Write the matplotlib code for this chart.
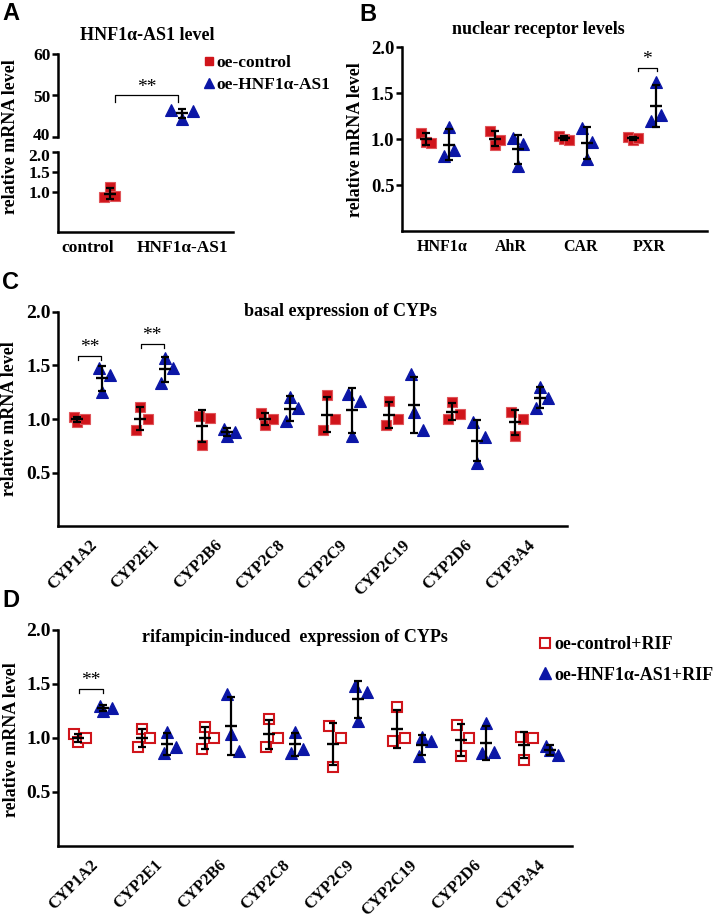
import matplotlib.pyplot as plt
import numpy as np
from matplotlib.lines import Line2D

W, H = 714, 917
RED = '#d0151b'
BLUE = '#0b16a6'
SERIF = ['Liberation Serif', 'DejaVu Serif']

plt.rcParams['font.family'] = SERIF
plt.rcParams['font.weight'] = 'bold'

# ---- data ----
a_groups = ['control', 'HNF1α-AS1']
a_ctrl = [0.87, 1.12, 0.89]
a_oe = [46.5, 44.3, 46.2]
a_top_ticks = [40, 50, 60]
a_bot_ticks = [1.0, 1.5, 2.0]

b_genes = ['HNF1α', 'AhR', 'CAR', 'PXR']
b_ctrl = [[1.07, 0.97, 0.96], [1.09, 0.93, 0.99], [1.03, 1.00, 0.99], [1.02, 0.99, 1.01]]
b_oe = [[0.81, 1.13, 0.88], [1.01, 0.71, 0.95], [1.12, 0.78, 0.97], [1.20, 1.62, 1.26]]

cyps = ['CYP1A2', 'CYP2E1', 'CYP2B6', 'CYP2C8', 'CYP2C9', 'CYP2C19', 'CYP2D6', 'CYP3A4']
c_ctrl = [[1.02, 0.97, 1.00], [0.90, 1.11, 1.00], [1.03, 0.76, 1.01], [1.06, 0.94, 1.00],
          [0.90, 1.22, 1.00], [0.94, 1.17, 1.00], [1.00, 1.16, 1.05], [1.07, 0.84, 1.00]]
c_oe = [[1.48, 1.25, 1.41], [1.34, 1.57, 1.48], [0.91, 0.84, 0.88], [0.98, 1.21, 1.10],
        [1.23, 0.84, 1.17], [1.42, 1.07, 0.90], [0.97, 0.59, 0.83], [1.10, 1.30, 1.20]]

d_ctrl = [[1.04, 0.96, 1.00], [0.92, 1.08, 1.00], [0.90, 1.10, 1.00], [0.92, 1.18, 1.00],
          [1.11, 0.73, 1.00], [0.97, 1.29, 1.00], [1.12, 0.83, 1.00], [1.01, 0.80, 1.00]]
d_oe = [[1.30, 1.25, 1.28], [0.86, 1.06, 0.92], [1.41, 1.04, 0.88], [0.86, 1.06, 0.90],
        [1.48, 1.16, 1.43], [0.83, 1.01, 0.97], [0.86, 1.14, 0.87], [0.93, 0.89, 0.84]]

# significance: (group index, bracket height, label)
sig_b = [(3, 1.77, '*')]
sig_c = [(0, 1.59, '**'), (1, 1.70, '**')]
sig_d = [(0, 1.45, '**')]


def style(ax, ysize=13.5):
    for s in ['top', 'right']:
        ax.spines[s].set_visible(False)
    for s in ['left', 'bottom']:
        ax.spines[s].set_linewidth(1.8)
    ax.tick_params(axis='y', length=4.5, width=1.8, pad=1, labelsize=ysize)
    ax.tick_params(axis='x', length=0)


def draw_group(ax, x, vals, jit, marker, face, edge, ms, mew=0.8):
    vals = np.asarray(vals, dtype=float)
    ax.plot(x + np.asarray(jit), vals, ls='none', marker=marker, ms=ms,
            mfc=face, mec=edge, mew=mew, zorder=3, clip_on=False)
    m, s = vals.mean(), vals.std(ddof=1)
    ax.errorbar(x, m, yerr=s, fmt='none', ecolor='black', elinewidth=1.6,
                capsize=2.8, capthick=1.6, zorder=4)
    ax.plot([x], [m], marker='_', ms=9, mew=1.7, color='black', zorder=4)


def bracket(ax, x0, x1, y, leg, label, size=14):
    ax.plot([x0, x0, x1, x1], [y - leg, y, y, y - leg], color='black', lw=0.9)
    ax.text((x0 + x1) / 2, y, label, ha='center', va='bottom', fontsize=size,
            fontweight='normal')


def fmt(v):
    return '%d' % v if v >= 10 else '%.1f' % v


fig = plt.figure(figsize=(W / 100, H / 100), dpi=100)

# ---------------- A (broken y axis) ----------------
axAt = fig.add_axes([58 / W, 1 - 137 / H, 175 / W, 83 / H])
axAb = fig.add_axes([58 / W, 1 - 232 / H, 175 / W, 80 / H])
for ax in (axAt, axAb):
    style(ax, 12.5)
    ax.set_xlim(-0.32, 1.54)
axAt.spines['bottom'].set_visible(False)
axAt.set_xticks([])
axAt.set_ylim(a_top_ticks[0], a_top_ticks[-1])
axAb.set_ylim(0, a_bot_ticks[-1])
# labels next to the break are drawn by hand, nudged apart a little
axAt.set_yticks(a_top_ticks, [''] + [fmt(v) for v in a_top_ticks[1:]])
axAb.set_yticks(a_bot_ticks, [fmt(v) for v in a_bot_ticks[:-1]] + [''])
for ax, v, dy in [(axAt, a_top_ticks[0], 2), (axAb, a_bot_ticks[-1], -2)]:
    ax.annotate(fmt(v), xy=(0, v), xycoords=('axes fraction', 'data'),
                xytext=(-5.5, dy), textcoords='offset points', ha='right',
                va='center_baseline', fontsize=12.5, fontweight='bold')
axAb.set_xticks([0, 1])
axAb.set_xticklabels(a_groups, fontsize=12.5)
axAb.tick_params(axis='x', pad=6)
a_pos = [0.23, 1.0]
draw_group(axAb, a_pos[0], a_ctrl, [-0.06, 0, 0.06], 's', RED, '#e0555a', 7)
draw_group(axAt, a_pos[1], a_oe, [-0.12, 0, 0.11], '^', BLUE, BLUE, 8)
bracket(axAt, 0.29, 0.96, 50, 1.6, '**')

fig.legend(handles=[Line2D([], [], ls='none', marker='s', ms=6, mfc=RED, mec=RED),
                    Line2D([], [], ls='none', marker='^', ms=7, mfc=BLUE, mec=BLUE)],
           labels=['oe-control', 'oe-HNF1α-AS1'], loc='upper left',
           bbox_to_anchor=(205 / W, 1 - 55 / H), frameon=False, handlelength=0.5,
           handletextpad=0.15, labelspacing=0.35, borderpad=0, borderaxespad=0,
           prop={'family': SERIF, 'weight': 'bold', 'size': 12.5})

# ---------------- B ----------------
axB = fig.add_axes([402 / W, 1 - 231 / H, 305 / W, 184 / H])
style(axB)
axB.set_xlim(-1.04, 12.22)
axB.set_ylim(0, 2.0)
axB.set_yticks([0.5, 1.0, 1.5, 2.0])
axB.set_yticklabels(['0.5', '1.0', '1.5', '2.0'])
xb = np.arange(len(b_genes)) * 3.0
for i in range(len(b_genes)):
    draw_group(axB, xb[i], b_ctrl[i], [-0.2, 0, 0.2], 's', RED, '#e0555a', 7)
    draw_group(axB, xb[i] + 1, b_oe[i], [-0.2, 0, 0.2], '^', BLUE, BLUE, 8)
axB.set_xticks(xb + 0.7)
axB.set_xticklabels(b_genes, fontsize=11.5)
axB.tick_params(axis='x', pad=6)
for gi, y, lab in sig_b:
    bracket(axB, xb[gi] + 0.2, xb[gi] + 1.05, y, 0.03, lab)


# ---------------- C / D ----------------
def cyp_panel(rect, xlim, ctrl, oe, open_ctrl, sigs):
    ax = fig.add_axes(rect)
    style(ax, 14)
    ax.set_xlim(*xlim)
    ax.set_ylim(0, 2.0)
    ax.set_yticks([0.5, 1.0, 1.5, 2.0])
    ax.set_yticklabels(['0.5', '1.0', '1.5', '2.0'])
    xs = np.arange(len(cyps)) * 2.5
    jit = [-0.14, 0, 0.33]
    for i in range(len(cyps)):
        if open_ctrl:
            draw_group(ax, xs[i], ctrl[i], jit, 's', 'white', RED, 6.5, mew=1.5)
        else:
            draw_group(ax, xs[i], ctrl[i], jit, 's', RED, '#e0555a', 7)
        draw_group(ax, xs[i] + 1, oe[i], jit, '^', BLUE, BLUE, 8)
    ax.set_xticks(xs + 0.5)
    ax.set_xticklabels(cyps, rotation=45, ha='right', rotation_mode='anchor',
                       fontsize=12)
    ax.tick_params(axis='x', pad=8)
    for gi, y, lab in sigs:
        bracket(ax, xs[gi] + 0.05, xs[gi] + 0.97, y, 0.035, lab)
    return ax


axC = cyp_panel([58 / W, 1 - 526 / H, 509 / W, 214 / H], (-0.76, 19.6),
                c_ctrl, c_oe, False, sig_c)
axD = cyp_panel([58 / W, 1 - 846 / H, 514 / W, 216 / H], (-0.78, 19.37),
                d_ctrl, d_oe, True, sig_d)

fig.legend(handles=[Line2D([], [], ls='none', marker='s', ms=7, mfc='white', mec=RED, mew=1.5),
                    Line2D([], [], ls='none', marker='^', ms=8, mfc=BLUE, mec=BLUE)],
           labels=['oe-control+RIF', 'oe-HNF1α-AS1+RIF'], loc='upper left',
           bbox_to_anchor=(540 / W, 1 - 636 / H), frameon=False, handlelength=0.6,
           handletextpad=0.2, labelspacing=0.75, borderpad=0, borderaxespad=0,
           prop={'family': SERIF, 'weight': 'bold', 'size': 13})

# ---------------- texts ----------------
tkw = dict(ha='center', va='center', fontsize=13, fontweight='bold')
fig.text(147 / W, 1 - 36 / H, 'HNF1α-AS1 level', **tkw)
fig.text(538 / W, 1 - 30 / H, 'nuclear receptor levels', **tkw)
fig.text(341 / W, 1 - 311 / H, 'basal expression of CYPs', **tkw)
fig.text(295 / W, 1 - 637 / H, 'rifampicin-induced  expression of CYPs', **tkw)

ykw = dict(ha='center', va='center', rotation=90, fontsize=13, fontweight='bold')
fig.text(11 / W, 1 - 137 / H, 'relative mRNA level', **ykw)
fig.text(355 / W, 1 - 140 / H, 'relative mRNA level', **ykw)
fig.text(10 / W, 1 - 419 / H, 'relative mRNA level', **ykw)
fig.text(12 / W, 1 - 740 / H, 'relative mRNA level', **ykw)

lkw = dict(ha='left', va='top', fontsize=17, fontweight='bold',
           family=['Liberation Sans', 'DejaVu Sans'])
fig.text(2 / W, 1 - 2 / H, 'A', **lkw)
fig.text(359 / W, 1 - 3 / H, 'B', **lkw)
fig.text(2 / W, 1 - 271 / H, 'C', **lkw)
fig.text(2 / W, 1 - 589 / H, 'D', **lkw)

fig.savefig('out.png', dpi=100)
